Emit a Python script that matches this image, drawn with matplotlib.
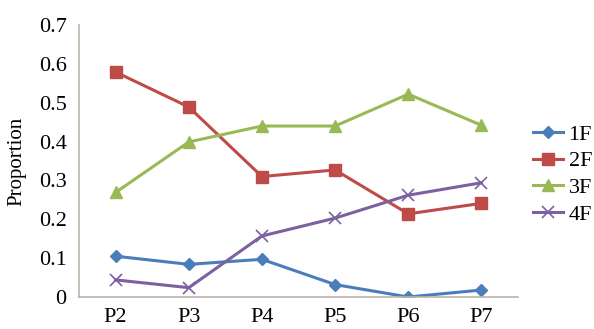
import matplotlib
matplotlib.use("Agg")
import matplotlib.pyplot as plt

categories = ["P2", "P3", "P4", "P5", "P6", "P7"]
f1 = [0.105, 0.084, 0.097, 0.032, 0.0, 0.018]
f2 = [0.579, 0.489, 0.310, 0.327, 0.214, 0.241]
f3 = [0.269, 0.399, 0.440, 0.440, 0.522, 0.442]
f4 = [0.044, 0.024, 0.157, 0.203, 0.262, 0.294]
series_names = ["1F", "2F", "3F", "4F"]
yticks = [0, 0.1, 0.2, 0.3, 0.4, 0.5, 0.6, 0.7]
ytick_labels = ["0", "0.1", "0.2", "0.3", "0.4", "0.5", "0.6", "0.7"]

plt.rcParams['font.family'] = ['Liberation Serif', 'DejaVu Serif']

fig = plt.figure(figsize=(5.94, 3.29), dpi=100)
ax = fig.add_axes([79/594, 1 - 297/329, (518-79)/594, (297-25)/329])

x = [i + 0.5 for i in range(len(categories))]
styles = [
    dict(color="#4A7EBB", marker="D", markersize=6),
    dict(color="#BE4B48", marker="s", markersize=8),
    dict(color="#98B954", marker="^", markersize=8),
    dict(color="#7D60A0", marker="x", markersize=8, markeredgewidth=1.2),
]
for vals, name, st in zip([f1, f2, f3, f4], series_names, styles):
    ax.plot(x, vals, linewidth=2.2, label=name, **st)

ax.set_xlim(0, 6)
ax.set_ylim(0, 0.7)
ax.set_xticks(x)
ax.set_xticklabels(categories, fontsize=16)
ax.set_yticks(yticks)
ax.set_yticklabels(ytick_labels, fontsize=16)
ax.tick_params(axis='y', length=0, pad=9)
ax.tick_params(axis='x', length=0, pad=8)
for s in ["top", "right"]:
    ax.spines[s].set_visible(False)
for s in ["left", "bottom"]:
    ax.spines[s].set_color("#BDB3A8")
    ax.spines[s].set_linewidth(1.2)
ax.set_ylabel("Proportion", fontsize=15, labelpad=9)

leg = ax.legend(loc="center left", bbox_to_anchor=((533-79)/439, 0.45), frameon=False,
                fontsize=16, handlelength=1.35, handletextpad=0.25, labelspacing=0.28,
                borderpad=0, borderaxespad=0)

fig.savefig("out.png", dpi=100)
